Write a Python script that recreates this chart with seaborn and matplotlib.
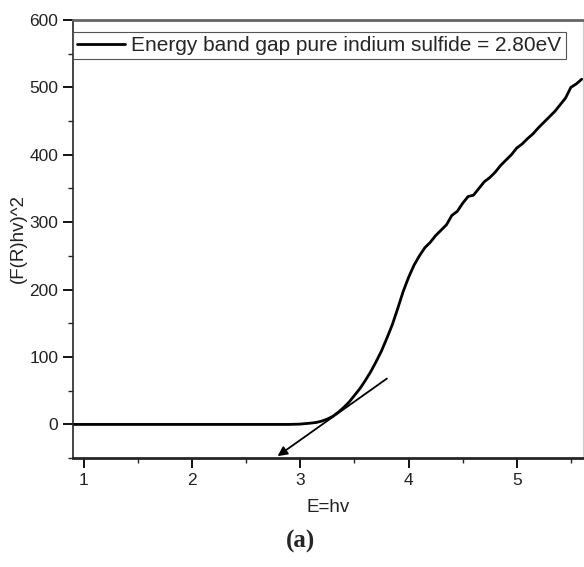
import matplotlib
matplotlib.use("Agg")
import matplotlib.pyplot as plt
from matplotlib.ticker import MultipleLocator
import seaborn as sns
import pandas as pd
import numpy as np

sns.set_style("ticks")
plt.rcParams["font.family"] = ["Liberation Sans", "DejaVu Sans"]

# Tauc plot values
energia = [0.90, 1.50, 2.00, 2.50, 2.90, 3.00, 3.10, 3.15, 3.20, 3.25,
           3.30, 3.35, 3.40, 3.45, 3.50, 3.55, 3.60, 3.65, 3.70, 3.75,
           3.80, 3.85, 3.90, 3.95, 4.00, 4.05, 4.10, 4.15, 4.20,
           4.25, 4.30, 4.35, 4.40, 4.45, 4.50, 4.55, 4.60, 4.65, 4.70,
           4.75, 4.80, 4.85, 4.90, 4.95, 5.00, 5.05, 5.10, 5.15, 5.20,
           5.25, 5.30, 5.35, 5.40, 5.45, 5.50, 5.55, 5.60]
valor = [0, 0, 0, 0, 0, 0.5, 2, 3, 5, 8,
         12, 18, 25, 33, 43, 53, 65, 78, 93, 109,
         128, 148, 172, 197, 218, 236, 250, 262, 270,
         280, 288, 296, 310, 316, 328, 338, 340, 350, 360,
         366, 374, 384, 392, 400, 410, 416, 424, 431, 440,
         448, 456, 464, 474, 484, 500, 505, 512]

tangente_e = [3.80, 2.79]
tangente_y = [68, -47]

rotulo = "Energy band gap pure indium sulfide = 2.80eV"

dados = pd.DataFrame({"E": energia, "F": valor})

fig = plt.figure(figsize=(5.84, 5.67), dpi=100)
ax = fig.add_axes([0.125, 0.192, 0.873, 0.773])

sns.lineplot(data=dados, x="E", y="F", color="black", linewidth=2.0,
             label=rotulo, ax=ax)

# reta tangente com seta
ax.annotate("", xy=(tangente_e[1], tangente_y[1]),
            xytext=(tangente_e[0], tangente_y[0]),
            arrowprops=dict(arrowstyle="-|>", color="black", lw=1.3,
                            mutation_scale=14, shrinkA=0, shrinkB=0))

ax.set_xlim(0.9, 5.61)
ax.set_ylim(-50, 600)
ax.xaxis.set_major_locator(MultipleLocator(1))
ax.xaxis.set_minor_locator(MultipleLocator(0.5))
ax.yaxis.set_major_locator(MultipleLocator(100))
ax.yaxis.set_minor_locator(MultipleLocator(50))
ax.tick_params(which="major", direction="out", length=7, width=1.3,
               labelsize=12.5, colors="black")
ax.tick_params(which="minor", direction="out", length=3.5, width=1.0)
ax.tick_params(axis="both", labelcolor="#222222")

ax.spines["left"].set_linewidth(1.2)
ax.spines["bottom"].set_linewidth(2.0)
ax.spines["top"].set_linewidth(2.0)
ax.spines["top"].set_color("#666666")
ax.spines["right"].set_linewidth(0.8)
ax.spines["right"].set_color("#cccccc")

ax.set_xlabel("E=hv", fontsize=13.5, color="#222222", labelpad=8)
ax.set_ylabel("(F(R)hv)^2", fontsize=13.5, color="#222222", labelpad=2)

leg = ax.legend(loc="upper left", bbox_to_anchor=(0.0, 0.973),
                borderaxespad=0, fancybox=False, fontsize=15,
                handlelength=2.3, handletextpad=0.3, borderpad=0.2,
                framealpha=1)
leg.get_frame().set_edgecolor("#555555")
leg.get_frame().set_linewidth(0.8)

fig.text(0.514, 0.025, "(a)", family=["Liberation Serif", "DejaVu Serif"],
         fontsize=18, fontweight="bold", ha="center", va="bottom")

fig.savefig("out.png", dpi=100)
